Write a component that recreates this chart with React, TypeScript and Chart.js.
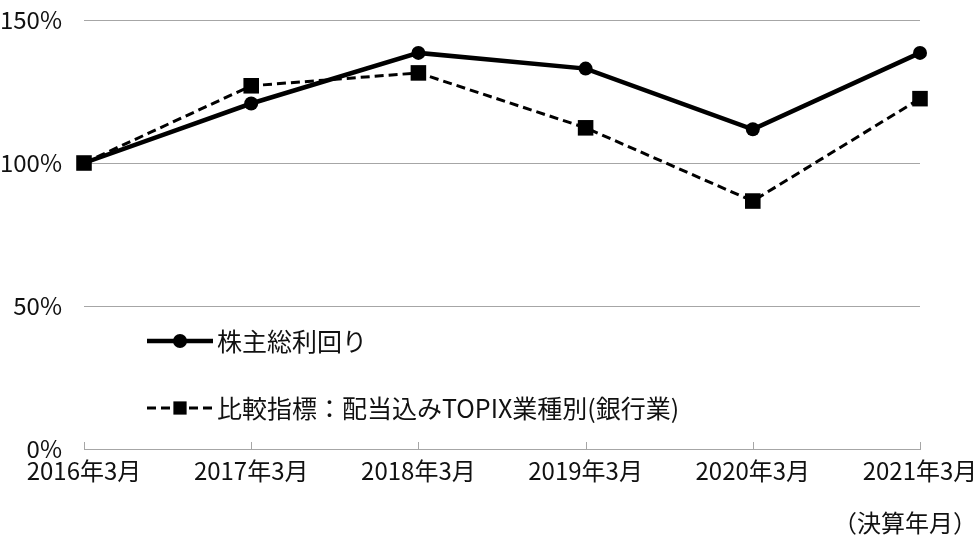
import React, { useEffect, useRef } from "react";
import { Chart, registerables } from "chart.js";

Chart.register(...registerables);

const categories = ["2016年3月", "2017年3月", "2018年3月", "2019年3月", "2020年3月", "2021年3月"];
const tsrValues = [100, 120.8, 138.5, 133, 111.8, 138.5];
const benchmarkValues = [100, 127, 131.5, 112.3, 86.7, 122.5];
const seriesNames = ["株主総利回り", "比較指標：配当込みTOPIX業種別(銀行業)"];
const yTicks = [0, 50, 100, 150];
const axisTitle = "（決算年月）";

const FONT = '"Noto Sans CJK JP", "Noto Sans", sans-serif';
const TEXT = "#111";
const GRID = "#a6a6a6";

const overlayPlugin = {
  id: "overlay",
  beforeDatasetsDraw(chart: any) {
    const { ctx, chartArea, scales } = chart;
    const xs = scales.x;
    ctx.save();
    ctx.strokeStyle = GRID;
    ctx.lineWidth = 1;
    xs.ticks.forEach((_: any, i: number) => {
      const px = Math.round(xs.getPixelForTick(i)) + 0.5;
      ctx.beginPath();
      ctx.moveTo(px, chartArea.bottom);
      ctx.lineTo(px, chartArea.bottom - 7);
      ctx.stroke();
    });
    ctx.restore();
  },
  afterDraw(chart: any) {
    const { ctx, chartArea } = chart;
    ctx.save();
    // legend
    const rowsY = [chartArea.top + 321, chartArea.top + 388];
    const x0 = chartArea.left + 63;
    const x1 = chartArea.left + 129;
    const xm = (x0 + x1) / 2;
    chart.data.datasets.forEach((ds: any, i: number) => {
      const y = rowsY[i];
      ctx.strokeStyle = ds.borderColor;
      ctx.lineWidth = ds.borderWidth;
      ctx.setLineDash(ds.borderDash || []);
      ctx.beginPath();
      ctx.moveTo(x0, y);
      ctx.lineTo(x1, y);
      ctx.stroke();
      ctx.setLineDash([]);
      ctx.fillStyle = ds.pointBackgroundColor;
      if (ds.pointStyle === "rect") {
        const s = ds.pointRadius * Math.SQRT1_2 * 0.85;
        ctx.fillRect(xm - s, y - s, 2 * s, 2 * s);
      } else {
        ctx.beginPath();
        ctx.arc(xm, y, ds.pointRadius, 0, Math.PI * 2);
        ctx.fill();
      }
      ctx.fillStyle = TEXT;
      ctx.font = `25px ${FONT}`;
      ctx.textAlign = "left";
      ctx.textBaseline = "middle";
      ctx.fillText(ds.label, x1 + 4, y);
    });
    // axis title
    ctx.font = `24px ${FONT}`;
    ctx.fillStyle = TEXT;
    ctx.textAlign = "right";
    ctx.textBaseline = "middle";
    ctx.fillText(axisTitle, chart.width - 2, chartArea.bottom + 74);
    ctx.restore();
  },
};

export default function App() {
  const ref = useRef<HTMLCanvasElement | null>(null);
  useEffect(() => {
    if (!ref.current) return;
    const chart = new Chart(ref.current, {
      type: "line",
      data: {
        labels: categories,
        datasets: [
          {
            label: seriesNames[0],
            data: tsrValues,
            borderColor: "#000",
            backgroundColor: "#000",
            borderWidth: 4.5,
            pointStyle: "circle",
            pointRadius: 7,
            pointBackgroundColor: "#000",
            pointBorderColor: "#000",
            pointBorderWidth: 0,
            tension: 0,
          },
          {
            label: seriesNames[1],
            data: benchmarkValues,
            borderColor: "#000",
            backgroundColor: "#000",
            borderWidth: 3,
            borderDash: [9, 5],
            pointStyle: "rect",
            pointRadius: 11,
            pointBackgroundColor: "#000",
            pointBorderColor: "#000",
            pointBorderWidth: 0,
            tension: 0,
          },
        ],
      },
      options: {
        responsive: false,
        animation: false,
        layout: { padding: { top: 20, right: 59, left: 0, bottom: 0 } },
        plugins: {
          legend: { display: false },
          tooltip: { enabled: false },
        },
        scales: {
          x: {
            type: "category",
            offset: false,
            grid: { display: false, drawTicks: false },
            border: { display: true, color: GRID, width: 1 },
            ticks: {
              color: TEXT,
              font: { family: FONT, size: 24 },
              padding: 7,
              maxRotation: 0,
              autoSkip: false,
            },
            afterFit: (s: any) => {
              s.height = 91;
              s.paddingLeft = 0;
              s.paddingRight = 0;
            },
          },
          y: {
            min: 0,
            max: 150,
            grid: { color: GRID, lineWidth: 1, drawTicks: false },
            border: { display: false },
            ticks: {
              color: TEXT,
              font: { family: FONT, size: 24 },
              padding: 22,
              callback: (v: any) => `${v}%`,
            },
            afterBuildTicks: (s: any) => {
              s.ticks = yTicks.map((v) => ({ value: v }));
            },
            afterFit: (s: any) => {
              s.width = 84;
              s.paddingTop = 0;
              s.paddingBottom = 0;
            },
          },
        },
      },
      plugins: [overlayPlugin],
    });
    return () => chart.destroy();
  }, []);
  return (
    <div style={{ position: "fixed", left: 0, top: 0, width: 979, height: 540, background: "#fff" }}>
      <canvas ref={ref} width={979} height={540} style={{ display: "block" }} />
    </div>
  );
}
